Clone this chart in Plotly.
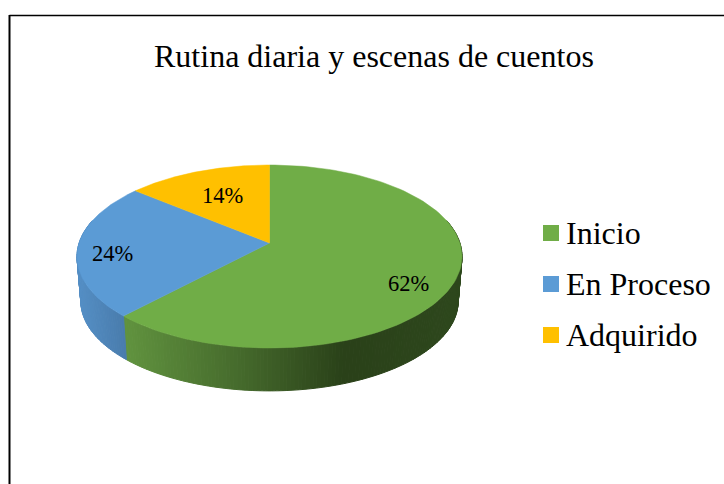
import numpy as np
import plotly.graph_objects as go

title = "Rutina diaria y escenas de cuentos"
categories = ["Inicio", "En Proceso", "Adquirido"]
values = [62, 24, 14]

colors = ["#70AD47", "#5B9BD5", "#FFC000"]

# pie geometry in page pixels, the circle goes through a small perspective
CX, CY = 269.5, 243
RX, RY = 190.4, 89.5
PERSP = 0.1475
DEPTH = 45
BOTTOM_SCALE = 0.98

W, H = 724, 484


def project(deg, r=1.0, bottom=False):
    """Clockwise angle from 12 o'clock -> page pixel"""
    t = np.radians(deg)
    u = r * np.sin(t)
    v = -r * np.cos(t)
    den = 1 - PERSP * v
    x = RX * u / den
    y = RY * v / den
    if bottom:
        return CX + BOTTOM_SCALE * x, CY + BOTTOM_SCALE * y + DEPTH
    return CX + x, CY + y


def lerp_color(stops, x):
    xs = [s[0] for s in stops]
    chan = [np.interp(x, xs, [s[1][i] for s in stops]) for i in range(3)]
    return "rgb(%d,%d,%d)" % tuple(chan)


# side shading, left to right across the page
green_side = [(124, (97, 147, 63)), (230, (72, 110, 46)), (345, (42, 65, 25)), (462, (46, 72, 29))]
blue_side = [(80, (84, 142, 196)), (128, (72, 122, 170))]

fig = go.Figure()

edges = np.concatenate([[0], np.cumsum(values) / np.sum(values) * 360])

# side wall, thin strips so the shading looks continuous
for i, stops in [(0, green_side), (1, blue_side)]:
    a0 = max(edges[i], 75)
    a1 = min(edges[i + 1], 285)
    steps = np.linspace(a0, a1, int(a1 - a0) + 2)
    for s0, s1 in zip(steps[:-1], steps[1:]):
        x0, y0 = project(s0)
        x1, y1 = project(s1)
        x2, y2 = project(s1, bottom=True)
        x3, y3 = project(s0, bottom=True)
        col = lerp_color(stops, (x0 + x1) / 2)
        fig.add_trace(
            go.Scatter(
                x=[x0, x1, x2, x3, x0],
                y=[y0, y1, y2, y3, y0],
                mode="lines",
                fill="toself",
                fillcolor=col,
                line={"color": col, "width": 1},
                hoverinfo="skip",
            )
        )

# top face
for i, name in enumerate(categories):
    arc = np.linspace(edges[i], edges[i + 1], 120)
    xs, ys = project(arc)
    fig.add_trace(
        go.Scatter(
            x=np.concatenate([[CX], xs, [CX]]),
            y=np.concatenate([[CY], ys, [CY]]),
            mode="lines",
            fill="toself",
            fillcolor=colors[i],
            line={"color": colors[i], "width": 0.5},
            name=name,
            hoverinfo="name",
        )
    )

# legend swatches
legend_y = [233, 284, 335]
fig.add_trace(
    go.Scatter(
        x=[551] * 3,
        y=legend_y,
        mode="markers",
        marker={"symbol": "square", "size": 16, "color": colors, "line": {"width": 0}},
        hoverinfo="skip",
    )
)

font = "Liberation Serif"
annotations = [
    dict(x=373.5, y=56, text=title, font={"size": 32, "color": "black"}, xanchor="center")
]
for name, y in zip(categories, legend_y):
    annotations.append(
        dict(x=566, y=y, text=name, font={"size": 32, "color": "black"}, xanchor="left")
    )
label_pos = [(408.5, 283), (112.5, 253), (222.5, 195)]
for val, (x, y) in zip(values, label_pos):
    annotations.append(
        dict(x=x, y=y, text=f"{val}%", font={"size": 22.5, "color": "black"}, xanchor="center")
    )
for a in annotations:
    a.update(showarrow=False, yanchor="middle", xref="x", yref="y", borderpad=0, borderwidth=0)

# page frame
shapes = [
    dict(type="line", x0=9.5, x1=9.5, y0=15, y1=H, line={"color": "black", "width": 2}),
    dict(type="line", x0=9.5, x1=W, y0=15.5, y1=15.5, line={"color": "black", "width": 1.5}),
]

fig.update_layout(
    width=W,
    height=H,
    margin={"l": 0, "r": 0, "t": 0, "b": 0},
    paper_bgcolor="white",
    plot_bgcolor="white",
    showlegend=False,
    font={"family": font},
    xaxis={"range": [0, W], "visible": False, "fixedrange": True},
    yaxis={"range": [H, 0], "visible": False, "fixedrange": True},
    annotations=annotations,
    shapes=shapes,
)

fig.write_html(
    "out.html",
    config={"displayModeBar": False},
    post_script="document.body.style.margin='0';document.body.style.overflow='hidden';",
)
